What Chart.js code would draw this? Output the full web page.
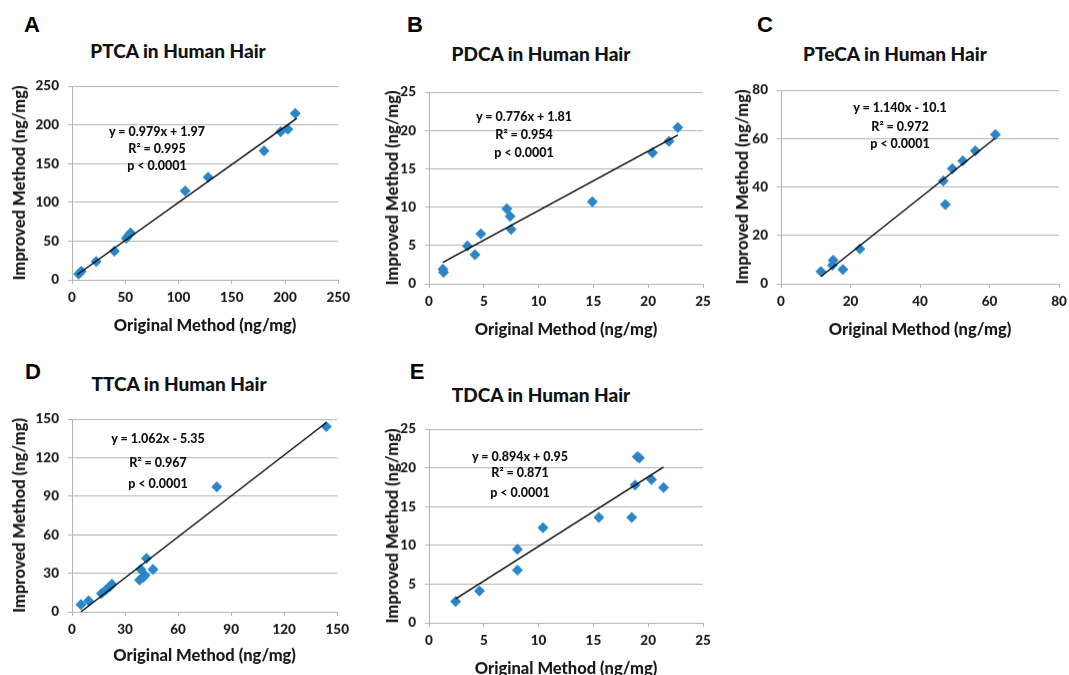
<!DOCTYPE html>
<html>
<head>
<meta charset="utf-8">
<script src="https://cdn.jsdelivr.net/npm/chart.js@4.4.1/dist/chart.umd.min.js"></script>
<style>
  body { margin: 0; width: 1069px; height: 675px; overflow: hidden; background: #fff; position: relative; font-family: Lato, sans-serif; }
  .box { position: absolute; }
  .txt { position: absolute; transform: translate(-50%, -50%); white-space: nowrap; font-weight: 900; color: #111; line-height: 1; }
  .letter { font-family: "Liberation Sans", Arial, sans-serif; font-weight: bold; font-size: 22px; color: #000; }
  .title { font-size: 19px; color: #111; }
  .eq { font-size: 12.5px; }
</style>
</head>
<body>
<script>
// ─── Data ─────────────────────────────────────────────────────────────────────
const ptcaOrig = [6.2, 8.7, 22.7, 39.8, 51, 53.5, 55, 106.3, 127.8, 180.3, 195.9, 202.7, 209.6];
const ptcaImpr = [7.6, 10.9, 23.5, 37, 53.8, 58, 60.5, 114.7, 132.4, 166.4, 191.2, 194.5, 214.7];
const ptcaFitX = [5, 211];
const ptcaFitY = [6.9, 208.5];

const pdcaOrig = [1.27, 1.33, 3.5, 4.19, 4.73, 7.1, 7.4, 7.5, 14.9, 20.4, 21.9, 22.7];
const pdcaImpr = [1.9, 1.5, 4.96, 3.8, 6.5, 9.8, 8.8, 7.1, 10.7, 17.1, 18.6, 20.4];
const pdcaFitX = [1.27, 22.7];
const pdcaFitY = [2.8, 19.4];

const ptecaOrig = [11.5, 14.8, 15, 17.8, 22.7, 46.7, 47.3, 49.3, 52.3, 55.9, 61.7];
const ptecaImpr = [5.1, 7.7, 9.7, 5.9, 14.4, 42.5, 32.8, 47.6, 50.8, 55, 61.7];
const ptecaFitX = [11.5, 61.6];
const ptecaFitY = [3.0, 60.1];

const ttcaOrig = [5.05, 9.35, 16.6, 19.1, 21.3, 22.6, 38.2, 38.9, 40.4, 41.3, 42.1, 45.8, 81.9, 143.8];
const ttcaImpr = [5.6, 8.6, 14.2, 17, 19.6, 21.4, 24.9, 33, 27, 28.5, 41.7, 33, 97.4, 144.2];
const ttcaFitX = [5.05, 143.8];
const ttcaFitY = [0, 147.4];

const tdcaOrig = [2.43, 4.6, 8.07, 8.07, 10.4, 15.5, 18.5, 18.8, 19.0, 19.2, 20.3, 21.4];
const tdcaImpr = [2.74, 4.13, 9.5, 6.8, 12.27, 13.6, 13.6, 17.8, 21.46, 21.3, 18.5, 17.45];
const tdcaFitX = [2.43, 21.4];
const tdcaFitY = [3.1, 20.1];

const panelLetters = ['A', 'B', 'C', 'D', 'E'];
const panelTitles = ['PTCA in Human Hair', 'PDCA in Human Hair', 'PTeCA in Human Hair', 'TTCA in Human Hair', 'TDCA in Human Hair'];
const panelEquations = [
  ['y = 0.979x + 1.97', 'R\u00b2 = 0.995', 'p < 0.0001'],
  ['y = 0.776x + 1.81', 'R\u00b2 = 0.954', 'p < 0.0001'],
  ['y = 1.140x - 10.1', 'R\u00b2 = 0.972', 'p < 0.0001'],
  ['y = 1.062x - 5.35', 'R\u00b2 = 0.967', 'p < 0.0001'],
  ['y = 0.894x + 0.95', 'R\u00b2 = 0.871', 'p < 0.0001'],
];
const axisMax  = [250, 25, 80, 150, 25];
const axisStep = [50, 5, 20, 30, 5];
const xTitle = 'Original Method (ng/mg)';
const yTitle = 'Improved Method (ng/mg)';

const series = [
  [ptcaOrig, ptcaImpr, ptcaFitX, ptcaFitY],
  [pdcaOrig, pdcaImpr, pdcaFitX, pdcaFitY],
  [ptecaOrig, ptecaImpr, ptecaFitX, ptecaFitY],
  [ttcaOrig, ttcaImpr, ttcaFitX, ttcaFitY],
  [tdcaOrig, tdcaImpr, tdcaFitX, tdcaFitY],
];

// ─── Layout (page pixels) ─────────────────────────────────────────────────────
// area = [left, right, top, bottom] of the plot area
const layout = [
  { area: [72, 340, 81, 279],   yTitleX: 20,  xTitleY: 325, letter: [32, 25],  title: [178, 50], eq: [157, [132, 149, 166]] },
  { area: [429, 703, 87, 283],  yTitleX: 393, xTitleY: 329, letter: [415, 25], title: [541, 53], eq: [524, [117, 135, 153]] },
  { area: [781, 1059, 85, 283], yTitleX: 743, xTitleY: 329, letter: [765, 25], title: [895, 53], eq: [900, [108, 127, 144]] },
  { area: [72, 339, 414, 611],  yTitleX: 20,  xTitleY: 655, letter: [33, 372], title: [179, 383], eq: [158, [439, 463, 484]] },
  { area: [429, 703, 424, 622], yTitleX: 393, xTitleY: 668, letter: [417, 372], title: [541, 394], eq: [520, [457, 473, 493]] },
];

const BLUE = '#2b86c9';
const GRID = '#b3b3b3';
const INK = '#1a1a1a';
const TOP_PAD = 12, RIGHT_PAD = 16;

function addText(cls, text, x, y) {
  const d = document.createElement('div');
  d.className = 'txt ' + cls;
  d.textContent = text;
  d.style.left = x + 'px';
  d.style.top = y + 'px';
  document.body.appendChild(d);
}

function makePanel(i) {
  const L = layout[i];
  const [left, right, top, bottom] = L.area;
  const [ox, oy, fx, fy] = series[i];

  const boxLeft = L.yTitleX - 15;
  const boxTop = top - TOP_PAD;
  const boxBottom = L.xTitleY + 11.6;
  const div = document.createElement('div');
  div.className = 'box';
  div.style.left = boxLeft + 'px';
  div.style.top = boxTop + 'px';
  div.style.width = (right - boxLeft + RIGHT_PAD) + 'px';
  div.style.height = (boxBottom - boxTop) + 'px';
  const cv = document.createElement('canvas');
  div.appendChild(cv);
  document.body.appendChild(div);

  const yWidth = left - boxLeft;
  const xHeight = boxBottom - bottom;

  const tickFont = { family: 'Lato', size: 13.5, weight: '900' };
  const titleFont = { family: 'Lato', size: 16.5, weight: '900' };

  new Chart(cv, {
    data: {
      datasets: [
        {
          type: 'line', order: 0,
          data: fx.map((x, k) => ({ x, y: fy[k] })),
          borderColor: '#000', borderWidth: 1.3,
          pointRadius: 0, fill: false, tension: 0,
        },
        {
          type: 'scatter', order: 1,
          data: ox.map((x, k) => ({ x, y: oy[k] })),
          pointStyle: 'rectRot', pointRadius: 5.5,
          backgroundColor: BLUE, borderColor: BLUE, borderWidth: 0,
        },
      ]
    },
    options: {
      responsive: true, maintainAspectRatio: false, animation: false,
      devicePixelRatio: 1,
      layout: { padding: { left: 0, right: RIGHT_PAD, top: TOP_PAD, bottom: 0 } },
      plugins: { legend: { display: false }, tooltip: { enabled: false } },
      scales: {
        x: {
          type: 'linear', min: 0, max: axisMax[i],
          afterFit: s => { s.height = xHeight; },
          ticks: { stepSize: axisStep[i], autoSkip: false, maxRotation: 0, font: tickFont, color: INK, padding: 6 },
          grid: { drawOnChartArea: false, drawTicks: true, tickLength: 4, color: GRID },
          border: { display: true, color: GRID },
          title: { display: true, text: xTitle, font: titleFont, color: INK, padding: { top: 0, bottom: 2 } },
        },
        y: {
          type: 'linear', min: 0, max: axisMax[i],
          afterFit: s => { s.width = yWidth; },
          ticks: { stepSize: axisStep[i], font: tickFont, color: INK, padding: 9 },
          grid: { drawOnChartArea: true, drawTicks: true, tickLength: 4, color: GRID },
          border: { display: true, color: GRID },
          title: { display: true, text: yTitle, font: titleFont, color: INK, padding: { top: 5, bottom: 0 } },
        },
      }
    }
  });

  addText('letter', panelLetters[i], L.letter[0], L.letter[1]);
  addText('title', panelTitles[i], L.title[0], L.title[1]);
  panelEquations[i].forEach((t, k) => addText('eq', t, L.eq[0], L.eq[1][k]));
}

for (let i = 0; i < layout.length; i++) makePanel(i);
</script>
</body>
</html>
